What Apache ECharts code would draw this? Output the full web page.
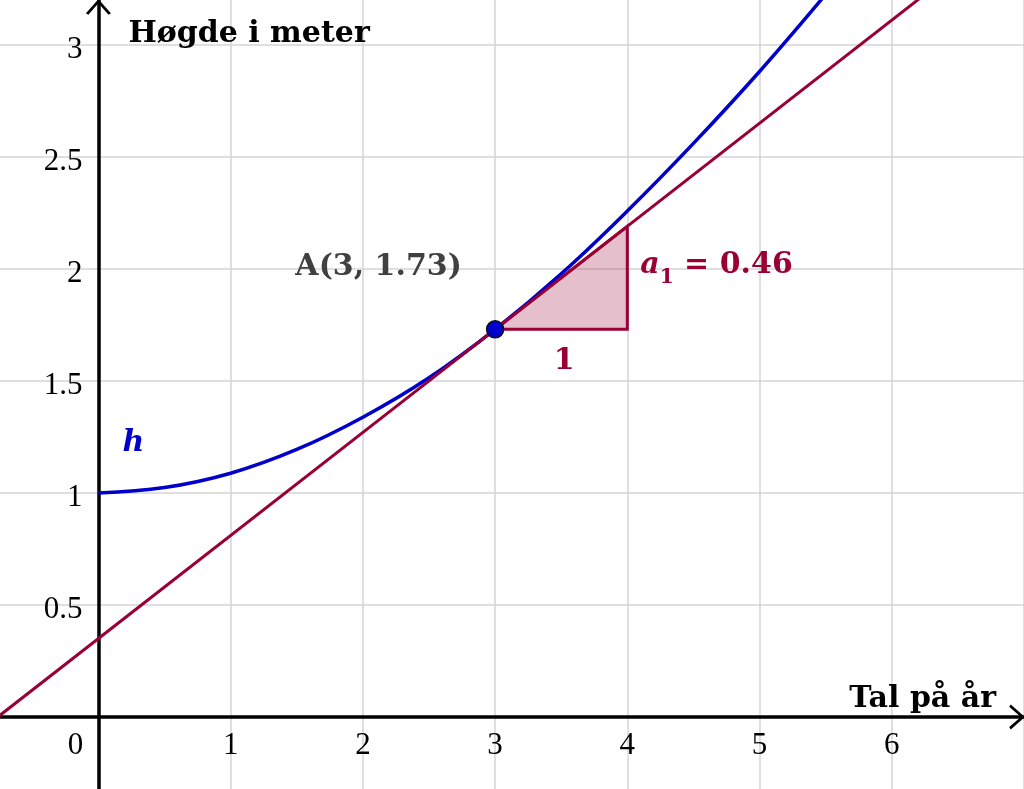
<!DOCTYPE html>
<html><head><meta charset="utf-8">
<script src="https://cdn.jsdelivr.net/npm/echarts@6/dist/echarts.min.js"></script>
<style>html,body{margin:0;padding:0;background:#fff}#c{width:1024px;height:789px}</style>
</head><body><div id="c"></div>
<script>
// ---- data ----
const hX = [0, 0.5, 1, 1.5, 2, 2.5, 3, 3.5, 4, 4.5, 5, 5.5];
const hY = [1, 1.024, 1.088, 1.194, 1.338, 1.514, 1.73, 1.978, 2.258, 2.56, 2.881, 3.225];
const tangentX = [-1, 3, 7];
const tangentY = [-0.11, 1.73, 3.57];
const pointA = [3, 1.73];
const run = 1;
const slope = 0.46;
const xTickValues = [0, 1, 2, 3, 4, 5, 6];
const yTickValues = [0.5, 1, 1.5, 2, 2.5, 3];
const xTitle = 'Tal på år';
const yTitle = 'Høgde i meter';
const curveName = 'h';
const labelA = 'A(3, 1.73)';

const BLUE = '#0000cc', RED = '#990033';
const W = 1024, H = 789;
const X_MIN = -1, X_MAX = 7, Y_MIN = -0.5, Y_MAX = 3.2;
const GRID = {left: -33.8, right: 0, top: 0, bottom: -40};
const pxX = (W - GRID.left - GRID.right) / (X_MAX - X_MIN);
const pxY = (H - GRID.top - GRID.bottom) / (Y_MAX - Y_MIN);

const chart = echarts.init(document.getElementById('c'), null, {renderer: 'canvas'});

const curveData = hX.map((x, i) => [x, hY[i]]);
const tangentData = tangentX.map((x, i) => [x, tangentY[i]]);
const triangle = [
  [pointA[0], pointA[1]],
  [pointA[0] + run, pointA[1]],
  [pointA[0] + run, pointA[1] + slope * run]
];
const chevron = 'path://M0,14 L12.5,0 L25,14 L22.6,15.6 L12.5,4 L2.4,15.6 Z';
const tickFont = {fontFamily: 'Liberation Serif', fontSize: 31, color: '#000'};
const boldFont = {fontFamily: 'DejaVu Serif', fontWeight: 'bold', fontSize: 30};

chart.setOption({
  animation: false,
  backgroundColor: '#fff',
  grid: Object.assign({containLabel: false, outerBoundsMode: 'none'}, GRID),
  xAxis: {
    type: 'value', min: X_MIN, max: X_MAX, interval: 1,
    position: 'bottom', offset: -(0 - Y_MIN) * pxY,
    axisLine: {onZero: false, lineStyle: {color: '#000', width: 3.5},
      symbol: ['none', chevron], symbolSize: [25, 15.6], symbolOffset: [0, -7]},
    axisTick: {show: false},
    splitLine: {show: true, lineStyle: {color: '#d4d4d4', width: 1.5}},
    axisLabel: Object.assign({}, tickFont, {
      margin: 13,
      formatter: v => xTickValues.includes(v) ? (v === 0 ? '{z|0}' : String(v)) : '',
      rich: {z: Object.assign({}, tickFont, {padding: [0, 46, 0, 0]})}
    }),
    name: xTitle, nameLocation: 'end', nameGap: -28, nameMoveOverlap: false,
    nameTextStyle: Object.assign({}, boldFont, {color: '#000', align: 'right', verticalAlign: 'bottom', padding: [0, 0, 3, 0]})
  },
  yAxis: {
    type: 'value', min: Y_MIN, max: Y_MAX, interval: 0.5,
    position: 'left', offset: -(0 - X_MIN) * pxX,
    axisLine: {onZero: false, lineStyle: {color: '#000', width: 3.5},
      symbol: ['none', chevron], symbolSize: [25, 15.6], symbolOffset: [0, -7]},
    axisTick: {show: false},
    splitLine: {show: true, showMaxLine: false, lineStyle: {color: '#d4d4d4', width: 1.5}},
    axisLabel: Object.assign({}, tickFont, {
      margin: 16,
      formatter: v => yTickValues.includes(v) ? '{v|' + v + '}' : '',
      rich: {v: Object.assign({}, tickFont, {padding: [10, 0, 0, 0]})}
    }),
    name: yTitle, nameLocation: 'end', nameGap: -34, nameMoveOverlap: false,
    nameTextStyle: Object.assign({}, boldFont, {color: '#000', align: 'left', verticalAlign: 'middle', padding: [0, 0, 0, 30]})
  },
  series: [
    {
      type: 'custom', z: 2, silent: true,
      data: [pointA],
      renderItem: (params, api) => ({
        type: 'polygon',
        shape: {points: triangle.map(p => api.coord(p))},
        style: {fill: 'rgba(153,0,51,0.25)', stroke: RED, lineWidth: 3}
      })
    },
    {
      type: 'line', z: 3, data: curveData, smooth: 0.4, symbol: 'none',
      lineStyle: {color: BLUE, width: 3.5}
    },
    {
      type: 'line', z: 4, data: tangentData, symbol: 'none',
      lineStyle: {color: RED, width: 3}
    },
    {
      type: 'scatter', z: 6, data: [pointA], symbolSize: 17,
      itemStyle: {color: BLUE, borderColor: '#111', borderWidth: 1.5, opacity: 1},
      label: {show: true, position: 'left', distance: 24, offset: [0, -62],
        formatter: labelA, color: '#404040', fontFamily: 'DejaVu Serif', fontWeight: 'bold', fontSize: 30}
    },
    {
      type: 'scatter', z: 7, symbolSize: 0, silent: true,
      itemStyle: {opacity: 1},
      data: [
        {value: [pointA[0] + run, pointA[1] + slope * run / 2],
          label: {show: true, position: 'right', distance: 13, offset: [0, -13],
            formatter: '{a|a}{s|1}{t| = ' + slope + '}',
            rich: {
              a: {fontFamily: 'DejaVu Serif', fontWeight: 'bold', fontStyle: 'italic', fontSize: 30, color: RED, lineHeight: 46},
              s: {fontFamily: 'DejaVu Serif', fontWeight: 'bold', fontSize: 20, color: RED, lineHeight: 20, verticalAlign: 'bottom'},
              t: {fontFamily: 'DejaVu Serif', fontWeight: 'bold', fontSize: 30, color: RED, lineHeight: 46}
            }}},
        {value: [pointA[0] + run / 2, pointA[1]],
          label: {show: true, position: 'bottom', distance: 17, formatter: String(run), offset: [3, 0],
            fontFamily: 'DejaVu Serif', fontWeight: 'bold', fontSize: 30, color: RED}},
        {value: curveData[0],
          label: {show: true, position: 'inside', offset: [35, -50], formatter: curveName,
            fontFamily: 'DejaVu Serif', fontWeight: 'bold', fontStyle: 'italic', fontSize: 30, color: BLUE}}
      ]
    }
  ]
});
</script></body></html>
